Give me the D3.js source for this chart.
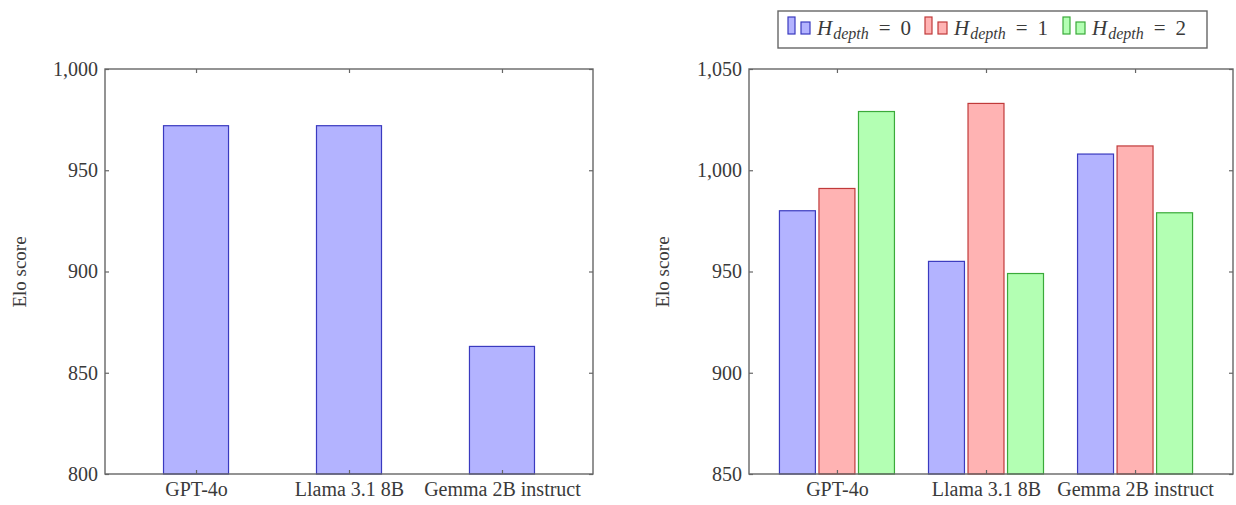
<!DOCTYPE html>
<html>
<head>
<meta charset="utf-8">
<script src="https://cdn.jsdelivr.net/npm/d3@7"></script>
<style>
  body { margin: 0; background: #fff; }
  svg text { font-family: "Liberation Serif", "DejaVu Serif", serif; fill: #3a3a3a; }
  .axis path { display: none; }
  .axis line { stroke: #666; stroke-width: 1.2; }
  .axis text { font-size: 20px; }
</style>
</head>
<body>
<svg width="1236" height="505"></svg>
<script>
var models = ["GPT-4o", "Llama 3.1 8B", "Gemma 2B instruct"];
var overallElo = [972, 972, 863];
var depth0 = [980, 955, 1008];
var depth1 = [991, 1033, 1012];
var depth2 = [1029, 949, 979];
var leftTicks = [800, 850, 900, 950, 1000];
var rightTicks = [850, 900, 950, 1000, 1050];
var seriesKeys = ["d0", "d1", "d2"];
var seriesLabels = ["0", "1", "2"];
var fills = ["#b3b3ff", "#ffb3b3", "#b3ffb3"];
var strokes = ["#3a3abf", "#c03a3a", "#3aaa3a"];

var svg = d3.select("svg");
var fmt = d3.format(",");
var serif = "'Liberation Serif', 'DejaVu Serif', serif";

function frame(g, x0, x1, y0, y1, x, y, ticks) {
  g.append("g")
    .attr("class", "axis")
    .attr("transform", "translate(" + x0 + ",0)")
    .call(d3.axisLeft(y).tickValues(ticks).tickSize(-4).tickPadding(7).tickFormat(fmt));
  g.append("g")
    .attr("class", "axis")
    .attr("transform", "translate(" + x1 + ",0)")
    .call(d3.axisRight(y).tickValues(ticks).tickSize(-4).tickFormat(""));
  g.append("g")
    .attr("class", "axis")
    .attr("transform", "translate(0," + y0 + ")")
    .call(d3.axisBottom(x).tickSize(-4).tickPadding(8));
  g.append("g")
    .attr("class", "axis")
    .attr("transform", "translate(0," + y1 + ")")
    .call(d3.axisTop(x).tickSize(-4).tickFormat(""));
  g.selectAll(".axis text").style("font-family", serif);
  g.append("rect")
    .attr("x", x0).attr("y", y1)
    .attr("width", x1 - x0).attr("height", y0 - y1)
    .attr("fill", "none")
    .attr("stroke", "#666")
    .attr("stroke-width", 1.4);
}

function yLabel(g, cx, cy) {
  g.append("text")
    .attr("transform", "translate(" + cx + "," + cy + ") rotate(-90)")
    .attr("text-anchor", "middle")
    .attr("dy", "0.35em")
    .style("font-size", "19px")
    .text("Elo score");
}

// left chart
var gl = svg.append("g");
var xl = d3.scalePoint().domain(models).range([105, 593]).padding(0.595);
var yl = d3.scaleLinear().domain([800, 1000]).range([474, 69]);
var bwl = xl.step() * 0.425;

gl.selectAll(".bar")
  .data(models)
  .enter().append("rect")
  .attr("class", "bar")
  .attr("x", function(d) { return xl(d) - bwl / 2; })
  .attr("y", function(d, i) { return yl(overallElo[i]); })
  .attr("width", bwl)
  .attr("height", function(d, i) { return yl(800) - yl(overallElo[i]); })
  .attr("fill", fills[0])
  .attr("stroke", strokes[0])
  .attr("stroke-width", 1.2);

frame(gl, 105, 593, 474, 69, xl, yl, leftTicks);
yLabel(gl, 19, 272);

// right chart
var gr = svg.append("g");
var xr = d3.scalePoint().domain(models).range([749, 1223]).padding(0.59);
var xs = d3.scaleBand().domain(seriesKeys).range([-57.5, 57.5]).paddingInner(0.09);
var yr = d3.scaleLinear().domain([850, 1050]).range([474, 69]);

var grouped = models.map(function(m, i) {
  return {
    model: m,
    values: [
      { key: "d0", v: depth0[i] },
      { key: "d1", v: depth1[i] },
      { key: "d2", v: depth2[i] }
    ]
  };
});

gr.selectAll(".grp")
  .data(grouped)
  .enter().append("g")
  .attr("class", "grp")
  .attr("transform", function(d) { return "translate(" + xr(d.model) + ",0)"; })
  .selectAll("rect")
  .data(function(d) { return d.values; })
  .enter().append("rect")
  .attr("x", function(d) { return xs(d.key); })
  .attr("y", function(d) { return yr(d.v); })
  .attr("width", xs.bandwidth())
  .attr("height", function(d) { return yr(850) - yr(d.v); })
  .attr("fill", function(d, i) { return fills[i]; })
  .attr("stroke", function(d, i) { return strokes[i]; })
  .attr("stroke-width", 1.2);

frame(gr, 749, 1233, 474, 69, xr, yr, rightTicks);
yLabel(gr, 662, 272);

// legend
var lg = svg.append("g");
lg.append("rect")
  .attr("x", 778).attr("y", 11)
  .attr("width", 429).attr("height", 37)
  .attr("fill", "#fff")
  .attr("stroke", "#666")
  .attr("stroke-width", 1.4);

var entryX = [788, 925, 1063];
seriesKeys.forEach(function(k, i) {
  var e = lg.append("g").attr("transform", "translate(" + entryX[i] + ",0)");
  e.append("rect").attr("x", 0).attr("y", 17).attr("width", 7).attr("height", 17)
    .attr("fill", fills[i]).attr("stroke", strokes[i]).attr("stroke-width", 1.2);
  e.append("rect").attr("x", 13).attr("y", 22).attr("width", 9).attr("height", 12)
    .attr("fill", fills[i]).attr("stroke", strokes[i]).attr("stroke-width", 1.2);
  var t = e.append("text").attr("x", 29).attr("y", 35).style("font-size", "21px");
  t.append("tspan").style("font-style", "italic").text("H");
  t.append("tspan").attr("dx", 1).attr("dy", 4).style("font-style", "italic").style("font-size", "16px").text("depth");
  t.append("tspan").attr("dx", 10).attr("dy", -4).text("=");
  t.append("tspan").attr("dx", 10).text(seriesLabels[i]);
});
</script>
</body>
</html>
